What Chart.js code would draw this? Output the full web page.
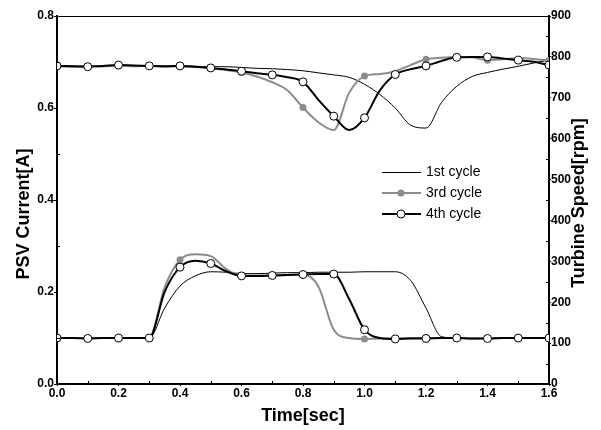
<!DOCTYPE html>
<html>
<head>
<meta charset="utf-8">
<script src="https://cdn.jsdelivr.net/npm/chart.js@4.4.0/dist/chart.umd.min.js"></script>
<style>
  body { margin: 0; background: #fff; }
  #wrap { width: 601px; height: 430px; }
</style>
</head>
<body>
<div id="wrap"><canvas id="turbineChart" width="601" height="430"></canvas></div>
<script>
// time axis (sec)
const times = [0.00, 0.05, 0.10, 0.15, 0.20, 0.25, 0.30, 0.35, 0.40, 0.45, 0.50,
               0.55, 0.60, 0.65, 0.70, 0.75, 0.80, 0.85, 0.90, 0.95, 1.00,
               1.05, 1.10, 1.15, 1.20, 1.25, 1.30, 1.35, 1.40, 1.45, 1.50, 1.55, 1.60];

// PSV current [A]
const current1st = [0.100, 0.100, 0.100, 0.100, 0.100, 0.100, 0.100, 0.165, 0.213, 0.235, 0.244,
                    0.243, 0.240, 0.240, 0.241, 0.242, 0.242, 0.243, 0.243, 0.243, 0.244,
                    0.244, 0.244, 0.225, 0.165, 0.103, 0.100, 0.099, 0.099, 0.100, 0.100, 0.100, 0.101];
const current3rd = [0.100, 0.100, 0.100, 0.100, 0.100, 0.100, 0.100, 0.210, 0.270, 0.282, 0.278,
                    0.250, 0.236, 0.236, 0.236, 0.237, 0.238, 0.212, 0.118, 0.100, 0.098,
                    0.099, 0.099, 0.100, 0.100, 0.100, 0.100, 0.099, 0.099, 0.100, 0.100, 0.100, 0.100];
const current4th = [0.100, 0.100, 0.099, 0.100, 0.100, 0.100, 0.100, 0.200, 0.254, 0.268, 0.262,
                    0.245, 0.235, 0.235, 0.236, 0.237, 0.238, 0.239, 0.239, 0.185, 0.118,
                    0.100, 0.098, 0.099, 0.099, 0.100, 0.100, 0.099, 0.099, 0.100, 0.100, 0.100, 0.100];

// turbine speed [rpm]
const speed1st = [778, 777, 779, 777, 780, 778, 779, 777, 778, 777, 776,
                  776, 774, 772, 771, 769, 766, 761, 756, 750, 733,
                  708, 675, 633, 626, 688, 728, 752, 762, 770, 777, 785, 792];
const speed3rd = [777, 776, 778, 777, 779, 777, 778, 776, 777, 775, 772,
                  768, 762, 752, 738, 718, 676, 640, 621, 712, 753,
                  758, 765, 780, 794, 798, 800, 799, 792, 794, 797, 795, 791];
const speed4th = [778, 777, 776, 778, 780, 779, 778, 777, 778, 776, 773,
                  769, 765, 760, 756, 750, 739, 695, 655, 621, 651,
                  718, 757, 770, 778, 790, 799, 800, 800, 796, 792, 788, 780];

const cycleNames = ['1st cycle', '3rd cycle', '4th cycle'];
const xTitle = 'Time[sec]';
const yTitle = 'PSV Current[A]';
const y2Title = 'Turbine Speed[rpm]';

const FONT = 'Arial, "Liberation Sans", sans-serif';
const GRAY = '#8c8c8c';

function toPoints(vals) {
    return vals.map((v, i) => ({ x: times[i], y: v }));
}

// markers every 0.1 s for 4th cycle, every 0.2 s for 3rd cycle
const mark4th = ctx => (ctx.dataIndex % 2 === 0 ? 4 : 0);
const mark3rd = ctx => (ctx.dataIndex % 4 === 0 ? 3.5 : 0);

const thin = { borderColor: '#000', borderWidth: 1, pointRadius: 0, order: 3 };
const grey = { borderColor: GRAY, borderWidth: 2, pointRadius: mark3rd, pointBackgroundColor: GRAY,
               pointBorderColor: GRAY, pointBorderWidth: 0, order: 2 };
const bold = { borderColor: '#000', borderWidth: 2, pointRadius: mark4th, pointBackgroundColor: '#fff',
               pointBorderColor: '#000', pointBorderWidth: 1, order: 1 };

const datasets = [
    { label: cycleNames[0], data: toPoints(current1st), yAxisID: 'y', ...thin },
    { label: cycleNames[0], data: toPoints(speed1st), yAxisID: 'y2', ...thin },
    { label: cycleNames[1], data: toPoints(current3rd), yAxisID: 'y', ...grey },
    { label: cycleNames[1], data: toPoints(speed3rd), yAxisID: 'y2', ...grey },
    { label: cycleNames[2], data: toPoints(current4th), yAxisID: 'y', ...bold },
    { label: cycleNames[2], data: toPoints(speed4th), yAxisID: 'y2', ...bold }
];

// frame top line, minor ticks, axis titles and legend
const framePlugin = {
    id: 'framePlugin',
    afterDraw(chart) {
        const c = chart.ctx;
        const a = chart.chartArea;
        const sx = chart.scales.x, sy = chart.scales.y, sy2 = chart.scales.y2;
        c.save();
        c.strokeStyle = '#000';
        c.lineWidth = 1;
        c.beginPath();
        c.moveTo(a.left, a.top + 0.5);
        c.lineTo(a.right, a.top + 0.5);
        // minor ticks pointing inward
        for (let t = 0.1; t < 1.6; t += 0.2) {
            const px = Math.round(sx.getPixelForValue(t)) + 0.5;
            c.moveTo(px, a.bottom);
            c.lineTo(px, a.bottom - 3);
        }
        for (let v = 0.1; v < 0.8; v += 0.2) {
            const py = Math.round(sy.getPixelForValue(v)) + 0.5;
            c.moveTo(a.left, py);
            c.lineTo(a.left + 3, py);
        }
        for (let v = 50; v < 900; v += 100) {
            const py = Math.round(sy2.getPixelForValue(v)) + 0.5;
            c.moveTo(a.right, py);
            c.lineTo(a.right - 3, py);
        }
        c.stroke();

        // axis titles
        c.fillStyle = '#000';
        c.font = 'bold 18px ' + FONT;
        c.textAlign = 'center';
        c.textBaseline = 'middle';
        c.fillText(xTitle, 303, 416);
        c.save();
        c.translate(24, 214);
        c.rotate(-Math.PI / 2);
        c.fillText(yTitle, 0, 0);
        c.restore();
        c.save();
        c.translate(579, 203);
        c.rotate(-Math.PI / 2);
        c.fillText(y2Title, 0, 0);
        c.restore();

        // legend
        const styles = [thin, grey, bold];
        const x0 = 382, x1 = 421, xm = 401;
        let y = 172;
        c.textAlign = 'left';
        styles.forEach((s, i) => {
            const ly = s.borderWidth === 1 ? y + 0.5 : y;
            c.strokeStyle = s.borderColor;
            c.lineWidth = s.borderWidth;
            c.beginPath();
            c.moveTo(x0, ly);
            c.lineTo(x1, ly);
            c.stroke();
            if (i === 1) {
                c.fillStyle = GRAY;
                c.beginPath();
                c.arc(xm, y, 3.5, 0, Math.PI * 2);
                c.fill();
            } else if (i === 2) {
                c.fillStyle = '#fff';
                c.lineWidth = 1;
                c.beginPath();
                c.arc(xm, y, 4, 0, Math.PI * 2);
                c.fill();
                c.stroke();
            }
            c.fillStyle = '#000';
            c.font = '14px ' + FONT;
            c.fillText(cycleNames[i], 426, y);
            y += 21;
        });
        c.restore();
    }
};

const tickFont = { family: FONT, size: 12, weight: 'bold' };

new Chart(document.getElementById('turbineChart'), {
    type: 'line',
    data: { datasets: datasets },
    options: {
        responsive: false,
        animation: false,
        layout: { padding: { top: 16, left: 0, right: 0, bottom: 0 } },
        elements: { line: { cubicInterpolationMode: 'monotone' } },
        plugins: { legend: { display: false }, tooltip: { enabled: false } },
        scales: {
            x: {
                type: 'linear', min: 0, max: 1.6,
                ticks: { stepSize: 0.2, color: '#000', font: tickFont, padding: 0,
                         callback: v => v.toFixed(1) },
                grid: { drawOnChartArea: false, color: '#000', tickLength: 2 },
                border: { color: '#000', width: 2 },
                afterFit: s => { s.height = 46; }
            },
            y: {
                position: 'left', min: 0, max: 0.8,
                ticks: { stepSize: 0.2, color: '#000', font: tickFont, padding: 0,
                         callback: v => v.toFixed(1) },
                grid: { drawOnChartArea: false, color: '#000', tickLength: 3 },
                border: { color: '#000', width: 2 },
                afterFit: s => { s.width = 57; }
            },
            y2: {
                position: 'right', min: 0, max: 900,
                ticks: { stepSize: 100, color: '#000', font: tickFont, padding: 0 },
                grid: { drawOnChartArea: false, color: '#000', tickLength: 2 },
                border: { color: '#000', width: 2 },
                afterFit: s => { s.width = 52; }
            }
        }
    },
    plugins: [framePlugin]
});
</script>
</body>
</html>
